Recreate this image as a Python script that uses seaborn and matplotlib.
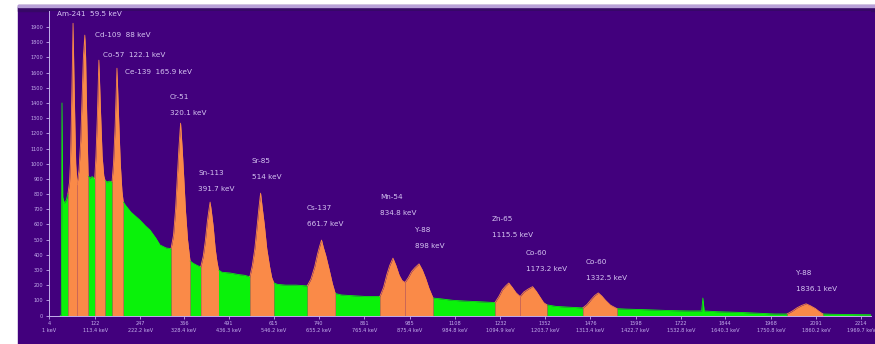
import numpy as np
import pandas as pd
import matplotlib
matplotlib.use("Agg")
import matplotlib.pyplot as plt
import seaborn as sns
from matplotlib.patches import Rectangle

# ---- gamma spectrum envelope: energy (keV) and counts ----
energy_kev = [
    28, 31, 32.7, 34.5, 38, 43,
    47, 51, 53, 55, 57.5, 59.5, 61.5, 64, 66,
    69, 74, 78, 81, 84.5, 88, 90, 92, 94,
    96, 100, 106,
    112, 115, 118.5, 122.1, 126, 130, 134,
    137, 142, 148,
    154, 157.5, 161.5, 165.9, 170, 174, 178,
    181, 186, 200, 221, 235, 246, 260, 270, 285,
    297, 303, 308, 312, 316, 320.1, 324, 328, 332, 337,
    343, 350, 360,
    369, 375, 380, 385, 388.5, 391.7, 395, 399, 404, 408,
    412, 420, 440, 460, 475,
    488, 494, 500, 506, 510, 514, 518, 523, 529, 536, 541,
    546, 555, 575, 600,
    627, 636, 645, 652, 657, 661.7, 666, 672, 680, 688,
    695, 710, 740, 770,
    803, 812, 820, 827, 834.8, 842, 850, 857,
    864, 872, 880, 888, 898, 906, 914, 922,
    932, 950, 980, 1010, 1050,
    1082, 1092, 1100, 1108, 1115.5, 1124, 1133,
    1143, 1152, 1163, 1173.2, 1182, 1192, 1200,
    1208, 1230, 1260,
    1295, 1305, 1315, 1324, 1332.5, 1341, 1350, 1362,
    1378, 1400, 1450, 1500, 1550, 1583, 1586, 1589, 1620, 1680, 1720, 1760,
    1790, 1802, 1815, 1826, 1836.1, 1846, 1858, 1868,
    1877, 1900, 1950, 1993,
]
counts = [
    0, 0, 1400, 780, 740, 760,
    800, 880, 1000, 1250, 1600, 1925, 1600, 1250, 1000,
    860, 960, 1150, 1400, 1700, 1847, 1700, 1400, 1150,
    920, 905, 915,
    900, 1050, 1320, 1682, 1350, 1050, 920,
    890, 880, 885,
    880, 1000, 1250, 1629, 1300, 1000, 820,
    750, 728, 680, 630, 590, 563, 510, 465, 445,
    440, 530, 700, 900, 1100, 1267, 1100, 900, 690, 500,
    360, 345, 330,
    320, 390, 490, 620, 690, 747, 680, 590, 440, 360,
    300, 285, 280, 270, 265,
    255, 330, 440, 600, 710, 806, 710, 600, 440, 320, 250,
    215, 205, 200, 200,
    195, 240, 320, 405, 455, 497, 450, 395, 305, 210,
    145, 135, 130, 125,
    125, 185, 270, 330, 378, 330, 265, 230,
    218, 250, 290, 315, 340, 300, 245, 180,
    115, 110, 100, 95, 90,
    85, 128, 170, 195, 214, 185, 150,
    125, 155, 175, 190, 160, 118, 85,
    70, 60, 55,
    50, 72, 105, 132, 149, 128, 100, 68,
    45, 42, 38, 33, 30, 30, 115, 30, 25, 20, 15, 10,
    10, 28, 52, 67, 77, 65, 47, 26,
    10, 8, 6, 5,
]

# ---- regions of interest around the identified photopeaks (keV) ----
roi_lo = [47, 69, 112, 154, 297, 369, 488, 627, 803, 864, 1082, 1143, 1295, 1790]
roi_hi = [69, 96, 137, 181, 343, 412, 546, 695, 864, 932, 1143, 1208, 1378, 1877]

isotopes = ["Am-241", "Cd-109", "Co-57", "Ce-139", "Cr-51", "Sn-113", "Sr-85",
            "Cs-137", "Mn-54", "Y-88", "Zn-65", "Co-60", "Co-60", "Y-88"]
peak_kev = [59.5, 88, 122.1, 165.9, 320.1, 391.7, 514, 661.7, 834.8, 898,
            1115.5, 1173.2, 1332.5, 1836.1]

# ---- axis ticks: channel number and calibrated energy ----
tick_channel = ["4", "122", "247", "366", "491", "615", "740", "861", "985", "1108",
                "1232", "1352", "1476", "1598", "1722", "1844", "1968", "2091", "2214"]
tick_kev = [1, 113.4, 222.2, 328.4, 436.3, 546.2, 655.2, 765.4, 875.4, 984.8,
            1094.9, 1203.7, 1313.4, 1422.7, 1532.8, 1640.3, 1750.8, 1860.2, 1969.7]
y_ticks = list(range(0, 2000, 100))

# label anchors (keV, counts) for the peak annotations
label_x = [20.6, 112.7, 132.1, 185.4, 294.5, 362.6, 493, 626.5, 803.5, 888.3,
           1075, 1157, 1302.7, 1811.7]
label_y = [1986, 1848, 1716, 1604, 1439, 939, 1018, 708, 781, 563,
           636, 412, 352, 280]
single_line = 4
line_gap = 105

PURPLE = "#42007d"
GREEN = "#0af20a"
ORANGE = "#fa8a48"
LAVENDER = "#d6c6f2"
TICKC = "#c4b0ec"

sns.set_theme(style="dark", rc={
    "axes.facecolor": PURPLE,
    "figure.facecolor": "white",
    "axes.edgecolor": TICKC,
    "xtick.color": TICKC,
    "ytick.color": TICKC,
})
plt.rcParams["font.family"] = ["DejaVu Sans"]

W, H = 875, 344
fig = plt.figure(figsize=(W / 100, H / 100), dpi=100)

# panel background
fig.patches.append(Rectangle((18 / W, 0), (W - 18) / W, (H - 5) / H,
                             transform=fig.transFigure, color=PURPLE, zorder=-10))
fig.patches.append(Rectangle((18 / W, (H - 11) / H), (W - 18) / W, 4 / H,
                             transform=fig.transFigure, color="#360866", zorder=-9))
fig.patches.append(Rectangle((18 / W, (H - 7) / H), (W - 18) / W, 2 / H,
                             transform=fig.transFigure, color="#b8a0d8", zorder=-9))

x0_px, px_per_kev = 48.5, 0.4126
x_lim = (1, 1993)
y0_px, px_per_count = 315.5, 0.1518
top_px = 11
y_top = (y0_px - top_px) / px_per_count
left = (x0_px + px_per_kev * x_lim[0]) / W
width = (x_lim[1] - x_lim[0]) * px_per_kev / W
bottom = (H - y0_px) / H
height = (y0_px - top_px) / H
ax = fig.add_axes([left, bottom, width, height])

E = np.array(energy_kev, dtype=float)
C = np.array(counts, dtype=float)

# split the spectrum into continuum and ROI pieces
pieces = []
start = E[0]
for lo, hi in zip(roi_lo, roi_hi):
    if lo > start:
        pieces.append(("continuum", start, lo))
    pieces.append(("roi", lo, hi))
    start = hi
pieces.append(("continuum", start, E[-1]))

frames = []
for i, (kind, a, b) in enumerate(pieces):
    m = (E >= a) & (E <= b)
    if m.sum() < 2:
        continue
    frames.append(pd.DataFrame({"energy": E[m], "counts": C[m], "kind": kind, "piece": i}))
df = pd.concat(frames, ignore_index=True)

colors = {"continuum": GREEN, "roi": ORANGE}
for (kind, piece), sub in df.groupby(["kind", "piece"]):
    ax.fill_between(sub["energy"], 0, sub["counts"], color=colors[kind], lw=0, zorder=2)

sns.lineplot(data=df, x="energy", y="counts", hue="kind", units="piece",
             estimator=None, sort=False, palette=colors, lw=0.6,
             legend=False, ax=ax, zorder=3)

# peak annotations
for i, (iso, kev) in enumerate(zip(isotopes, peak_kev)):
    if i < single_line:
        ax.text(label_x[i], label_y[i], f"{iso}  {kev:g} keV", color=LAVENDER,
                fontsize=5.2, va="center", ha="left", zorder=4)
    else:
        ax.text(label_x[i], label_y[i], iso, color=LAVENDER,
                fontsize=5.2, va="center", ha="left", zorder=4)
        ax.text(label_x[i], label_y[i] - line_gap, f"{kev:g} keV", color=LAVENDER,
                fontsize=5.2, va="center", ha="left", zorder=4)

ax.set_xlim(*x_lim)
ax.set_ylim(0, y_top)
ax.set_xticks(tick_kev)
ax.set_xticklabels([f"{c}\n{e:g} keV" for c, e in zip(tick_channel, tick_kev)],
                   fontsize=3.6, linespacing=1.6)
ax.set_yticks(y_ticks)
ax.set_yticklabels([str(v) for v in y_ticks], fontsize=3.6)
ax.tick_params(axis="both", which="major", length=2, width=0.6, pad=2,
               bottom=True, left=True, colors=TICKC)
ax.set_xlabel("")
ax.set_ylabel("")
ax.grid(False)
for side in ("top", "right"):
    ax.spines[side].set_visible(False)
for side in ("left", "bottom"):
    ax.spines[side].set_color(TICKC)
    ax.spines[side].set_linewidth(0.7)

fig.savefig("out.png", dpi=100)
